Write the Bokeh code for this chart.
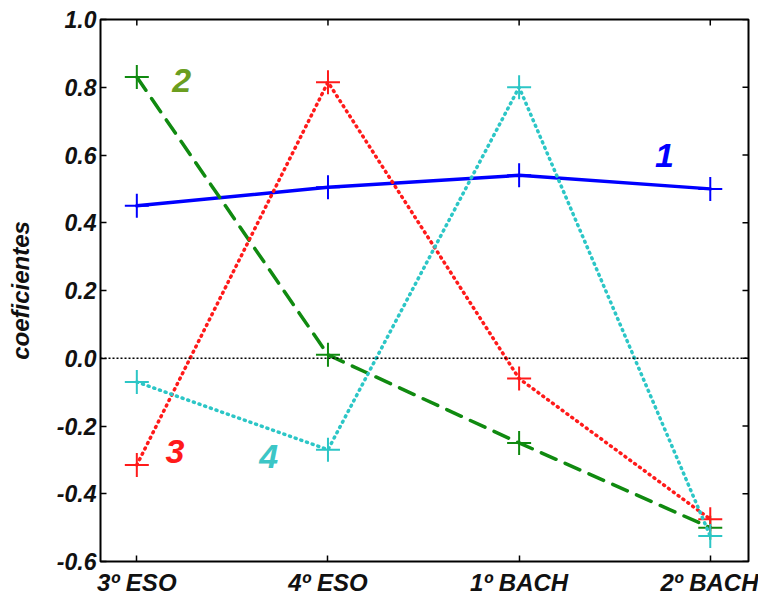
import math
from bokeh.plotting import figure
from bokeh.models import (Range1d, FixedTicker, NumeralTickFormatter,
                          Span, Label, ColumnDataSource)
from bokeh.embed import file_html
from bokeh.resources import INLINE

categories = ["3º ESO", "4º ESO", "1º BACH", "2º BACH"]
positions = [0, 1, 2, 3]
s1 = [0.45, 0.505, 0.54, 0.50]
s2 = [0.83, 0.01, -0.25, -0.50]
s3 = [-0.315, 0.815, -0.06, -0.475]
s4 = [-0.07, -0.27, 0.80, -0.525]
y_ticks = [-0.6, -0.4, -0.2, 0.0, 0.2, 0.4, 0.6, 0.8, 1.0]

FONT = "Liberation Sans"
X0, X1 = -0.19, 3.2
Y0, Y1 = -0.6, 1.0

p = figure(width=758, height=598, output_backend="svg", toolbar_location=None,
           x_range=Range1d(X0, X1), y_range=Range1d(Y0, Y1),
           min_border_left=100, min_border_right=10, min_border_top=19,
           min_border_bottom=35)
p.xgrid.visible = False
p.ygrid.visible = False
p.outline_line_color = "black"
p.outline_line_width = 2
p.background_fill_color = "white"
p.border_fill_color = "white"

for ax in (p.xaxis[0], p.yaxis[0]):
    ax.axis_line_color = None
    ax.major_tick_in = 6
    ax.major_tick_out = 0
    ax.minor_tick_line_color = None
    ax.major_tick_line_color = "black"
    ax.major_tick_line_width = 1.5
    ax.major_label_text_font = FONT
    ax.major_label_text_font_style = "bold italic"
    ax.major_label_text_color = "#111111"

p.xaxis.ticker = FixedTicker(ticks=positions)
p.xaxis.major_label_overrides = {i: c for i, c in zip(positions, categories)}
p.xaxis.major_label_text_font_size = "24px"
p.xaxis.major_label_standoff = 7
p.yaxis.ticker = FixedTicker(ticks=y_ticks)
p.yaxis.formatter = NumeralTickFormatter(format="0.0")
p.yaxis.major_label_text_font_size = "23px"
p.yaxis.major_label_standoff = 4
p.yaxis.axis_label = "coeficientes"
p.yaxis.axis_label_text_font = FONT
p.yaxis.axis_label_text_font_style = "bold italic"
p.yaxis.axis_label_text_font_size = "24px"
p.yaxis.axis_label_text_color = "#111111"
p.yaxis.axis_label_standoff = 20

# mirrored inward ticks on top and right edges (clipped to the frame)
p.scatter(x=positions, y=[Y1] * len(positions), marker="dash", angle=math.pi / 2,
          size=12, line_color="black", line_width=1.5)
p.scatter(x=[X1] * len(y_ticks), y=y_ticks, marker="dash",
          size=12, line_color="black", line_width=1.5)

p.add_layout(Span(location=0, dimension="width", line_color="black",
                  line_width=1.5, line_dash="2 2"))

series = [
    (s1, "#0000ff", "solid"),
    (s2, "#108a10", "16 10"),
    (s3, "#ff1a1a", "1 5"),
    (s4, "#2cc6c6", "1 5"),
]
for vals, col, dash in series:
    src = ColumnDataSource(dict(x=positions, y=vals))
    p.line("x", "y", source=src, line_color=col, line_width=3.5,
           line_dash=dash, line_cap="round")
    p.scatter("x", "y", source=src, marker="cross", size=24,
              line_color=col, line_width=2)

labels = [
    ("1", 2.76, 0.60, "#0000ff"),
    ("2", 0.235, 0.82, "#6b9e1f"),
    ("3", 0.20, -0.275, "#ff1a1a"),
    ("4", 0.69, -0.29, "#3cc6c6"),
]
for t, x, y, col in labels:
    p.add_layout(Label(x=x, y=y, text=t, text_color=col, text_font=FONT,
                       text_font_style="bold italic", text_font_size="34px",
                       text_align="center", text_baseline="middle"))

open("out.html", "w").write(file_html(p, INLINE))
